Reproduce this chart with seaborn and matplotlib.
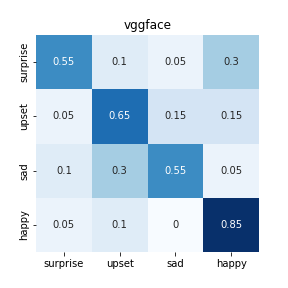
import numpy as np
import pandas as pd
import seaborn as sns
import matplotlib
matplotlib.use('Agg')
import matplotlib.pyplot as plt

labels = ['surprise', 'upset', 'sad', 'happy']
row_surprise = [0.55, 0.1, 0.05, 0.3]
row_upset = [0.05, 0.65, 0.15, 0.15]
row_sad = [0.1, 0.3, 0.55, 0.05]
row_happy = [0.05, 0.1, 0, 0.85]

cm = pd.DataFrame([row_surprise, row_upset, row_sad, row_happy],
                  index=labels, columns=labels)

fig = plt.figure(figsize=(4, 4), dpi=72)
ax = fig.add_axes([36/288, 36/288, 223/288, 217/288])
sns.heatmap(cm, annot=True, fmt='g', cmap='Blues', cbar=False, ax=ax)
ax.set_title('vggface')
plt.yticks(rotation=90, va='center')
plt.xticks(rotation=0)
plt.savefig('out.png', dpi=72)
plt.close()
